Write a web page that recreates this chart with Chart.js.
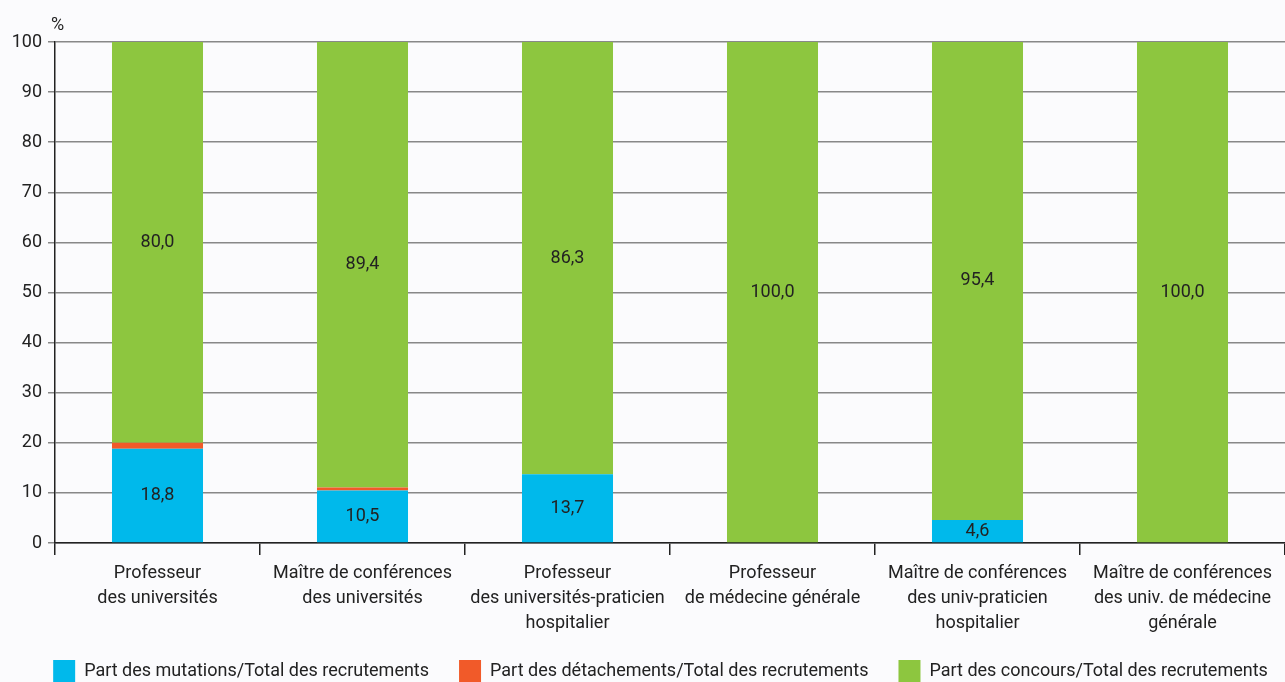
<!DOCTYPE html>
<html>
<head>
<meta charset="utf-8">
<script src="https://cdn.jsdelivr.net/npm/chart.js@4"></script>
<style>
  body { margin: 0; background: #fbfbfd; }
  #wrap { width: 1285px; height: 682px; }
</style>
</head>
<body>
<div id="wrap"><canvas id="barChartCanvas"></canvas></div>
<script>
const categories = [
  ["Professeur", "des universités"],
  ["Maître de conférences", "des universités"],
  ["Professeur", "des universités-praticien", "hospitalier"],
  ["Professeur", "de médecine générale"],
  ["Maître de conférences", "des univ-praticien", "hospitalier"],
  ["Maître de conférences", "des univ. de médecine", "générale"]
];
const mutations = [18.8, 10.5, 13.7, 0, 4.6, 0];
const detachements = [1.2, 0.6, 0, 0, 0, 0];
const concours = [80.0, 89.4, 86.3, 100.0, 95.4, 100.0];
const yTicks = [0, 10, 20, 30, 40, 50, 60, 70, 80, 90, 100];

const FONT = "Roboto, sans-serif";
const FS = 18;

// étiquettes de valeurs au centre des segments (bleu et vert)
const valueLabels = {
  id: "valueLabels",
  beforeLayout(chart) {
    // légende collée au bas : hauteur réduite et dessin décalé
    const lg = chart.legend;
    if (lg && !lg._patched) {
      const fit = lg.fit;
      lg.fit = function () { fit.call(this); this.height = 40; };
      const draw = lg._draw;
      lg._draw = function () {
        this.ctx.save();
        this.ctx.translate(18, -12);
        draw.call(this);
        this.ctx.restore();
      };
      lg._patched = true;
    }
  },
  afterDatasetsDraw(chart) {
    const ctx = chart.ctx;
    ctx.save();
    ctx.font = FS + "px " + FONT;
    ctx.fillStyle = "#222";
    ctx.textAlign = "center";
    ctx.textBaseline = "middle";
    [0, 2].forEach(di => {
      const meta = chart.getDatasetMeta(di);
      meta.data.forEach((bar, i) => {
        const v = chart.data.datasets[di].data[i];
        if (!v) return;
        const yTop = Math.max(bar.y, chart.chartArea.top);
        const y = (yTop + bar.base) / 2;
        ctx.fillText(v.toFixed(1).replace(".", ","), bar.x, y);
      });
    });
    // unité de l'axe
    ctx.textAlign = "left";
    ctx.textBaseline = "alphabetic";
    ctx.fillText("%", chart.scales.y.right - 4, 30);
    ctx.restore();
  }
};

function createBarChart() {
  const ctx = document.getElementById("barChartCanvas").getContext("2d");

  new Chart(ctx, {
    type: "bar",
    data: {
      labels: categories,
      datasets: [
        { label: "Part des mutations/Total des recrutements", data: mutations, backgroundColor: "#00b9eb" },
        { label: "Part des détachements/Total des recrutements", data: detachements, backgroundColor: "#f15a29" },
        { label: "Part des concours/Total des recrutements", data: concours, backgroundColor: "#8dc63f" }
      ]
    },
    options: {
      responsive: true,
      maintainAspectRatio: false,
      animation: false,
      layout: { padding: { top: 42, right: 0, left: 0, bottom: 0 } },
      datasets: { bar: { categoryPercentage: 1, barPercentage: 0.444 } },
      plugins: {
        tooltip: { enabled: false },
        legend: {
          position: "bottom",
          labels: {
            boxWidth: 22,
            boxHeight: 22,
            padding: 30,
            color: "#222",
            font: { family: FONT, size: FS }
          }
        }
      },
      scales: {
        x: {
          stacked: true,
          grid: { offset: true, drawOnChartArea: false, color: "#222", tickLength: 12, lineWidth: 1.5 },
          border: { color: "#222", width: 1.5 },
          ticks: { color: "#222", font: { family: FONT, size: FS, lineHeight: 1.38 }, padding: 6, maxRotation: 0, autoSkip: false },
          afterFit(scale) { scale.height = 99; }
        },
        y: {
          stacked: true,
          min: 0,
          max: 100,
          afterBuildTicks(scale) { scale.ticks = yTicks.map(v => ({ value: v })); },
          grid: { color: "#888", tickLength: 7, lineWidth: 1.5 },
          border: { color: "#222", width: 1.5 },
          ticks: { color: "#222", font: { family: FONT, size: FS }, padding: 6 },
          afterFit(scale) { scale.width = 55; }
        }
      }
    },
    plugins: [valueLabels]
  });
}

createBarChart();
</script>
</body>
</html>
